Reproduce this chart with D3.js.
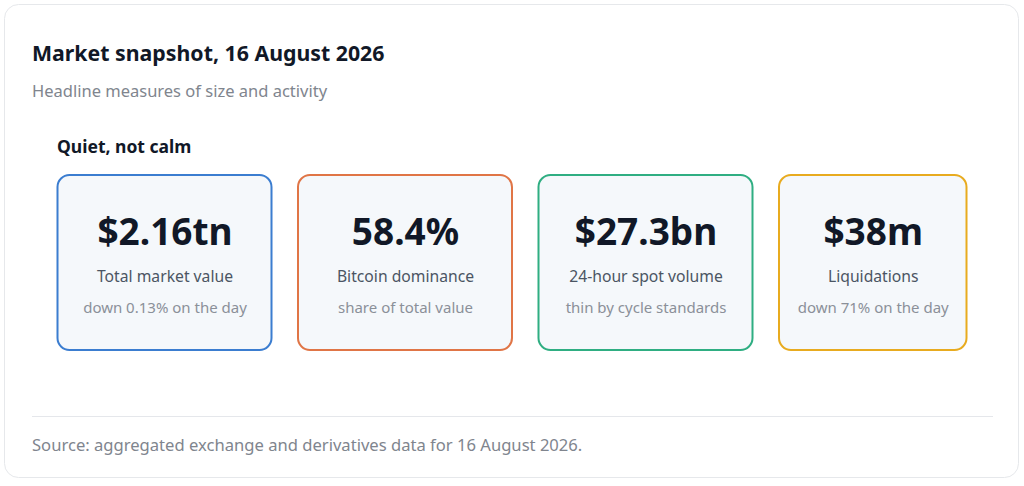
<!DOCTYPE html>
<html>
<head>
<meta charset="utf-8">
<script src="https://cdn.jsdelivr.net/npm/d3@7"></script>
<style>
  html, body { margin: 0; padding: 0; background: #fff; }
  svg { display: block; font-family: "Noto Sans", "Open Sans", sans-serif; }
</style>
</head>
<body>
<div id="container"></div>
<script>
// ---- data ----
const title = "Market snapshot, 16 August 2026";
const subtitle = "Headline measures of size and activity";
const panelTitle = "Quiet, not calm";
const source = "Source: aggregated exchange and derivatives data for 16 August 2026.";

const metrics = ["$2.16tn", "58.4%", "$27.3bn", "$38m"];
const labels = ["Total market value", "Bitcoin dominance", "24-hour spot volume", "Liquidations"];
const notes = ["down 0.13% on the day", "share of total value", "thin by cycle standards", "down 71% on the day"];
const accents = ["#3b7dd0", "#e07546", "#2fae82", "#e8ab1f"];

// ---- layout ----
const width = 1024, height = 486;
const innerLeft = 57, innerRight = 968;
const cardW = 216, cardH = 177, cardTop = 174, gap = 24.5;

const svg = d3.create("svg")
  .attr("width", width)
  .attr("height", height)
  .attr("viewBox", [0, 0, width, height]);

// outer card
svg.append("rect")
  .attr("x", 4.5).attr("y", 4.5)
  .attr("width", 1014).attr("height", 473)
  .attr("rx", 14)
  .attr("fill", "#fff")
  .attr("stroke", "#e6e8eb");

svg.append("text")
  .attr("x", 32).attr("y", 61)
  .attr("font-size", 21.3).attr("font-weight", 700)
  .attr("fill", "#111827")
  .text(title);

svg.append("text")
  .attr("x", 32).attr("y", 97)
  .attr("font-size", 16.5)
  .attr("fill", "#80858e")
  .text(subtitle);

svg.append("text")
  .attr("x", innerLeft).attr("y", 153)
  .attr("font-size", 17.5).attr("font-weight", 700)
  .attr("fill", "#111827")
  .text(panelTitle);

// card positions from index
const x = d3.scaleLinear()
  .domain([0, 1])
  .range([innerLeft, innerLeft + cardW + gap]);

const cards = svg.append("g")
  .selectAll("g")
  .data(metrics.map((m, i) => ({ metric: m, label: labels[i], note: notes[i], color: accents[i], i })))
  .join("g")
  .attr("transform", d => `translate(${x(d.i)},${cardTop})`);

const wOf = d => Math.min(cardW, innerRight - x(d.i));

cards.append("rect")
  .attr("x", 0.5).attr("y", 1)
  .attr("width", d => wOf(d) - 2)
  .attr("height", cardH - 2)
  .attr("rx", 12)
  .attr("fill", "#f5f8fb")
  .attr("stroke", d => d.color)
  .attr("stroke-width", 2);

cards.append("text")
  .attr("x", d => wOf(d) / 2).attr("y", 71)
  .attr("text-anchor", "middle")
  .attr("font-size", 37).attr("font-weight", 700)
  .attr("fill", "#111827")
  .text(d => d.metric);

cards.append("text")
  .attr("x", d => wOf(d) / 2).attr("y", 108)
  .attr("text-anchor", "middle")
  .attr("font-size", 15.7)
  .attr("fill", "#4b5563")
  .text(d => d.label);

cards.append("text")
  .attr("x", d => wOf(d) / 2).attr("y", 139)
  .attr("text-anchor", "middle")
  .attr("font-size", 15)
  .attr("fill", "#8b9099")
  .text(d => d.note);

// footer rule and source
svg.append("line")
  .attr("x1", 32).attr("x2", 993)
  .attr("y1", 416.5).attr("y2", 416.5)
  .attr("stroke", "#e5e7eb");

svg.append("text")
  .attr("x", 32).attr("y", 451)
  .attr("font-size", 16.6)
  .attr("fill", "#80858e")
  .text(source);

document.getElementById("container").append(svg.node());
</script>
</body>
</html>
